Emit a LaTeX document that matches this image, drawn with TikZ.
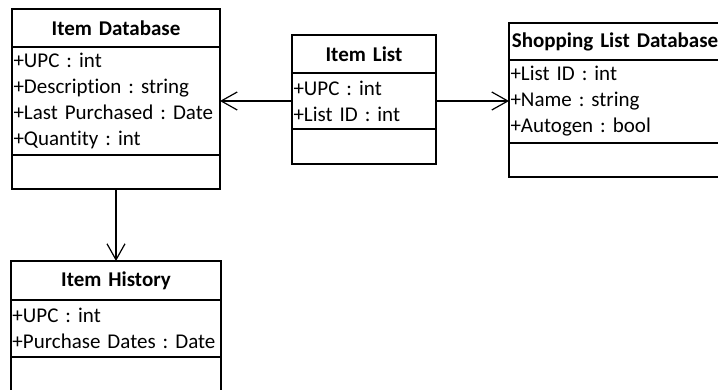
\documentclass[tikz,border=0pt]{standalone}
\usepackage{fontspec}
\setmainfont{Carlito}[Ligatures=NoCommon]
\usetikzlibrary{positioning, arrows.meta}
\frenchspacing

\newcommand{\umlfont}{\fontsize{21}{26}\selectfont}

\tikzset{
  classbox/.style={draw, line width=2pt, outer sep=0pt, inner xsep=1.5pt, inner ysep=0pt, font=\umlfont},
  titlebox/.style={classbox, font=\umlfont\bfseries, align=center},
  attrbox/.style={classbox, align=left},
  assoc/.style={line width=1.2pt, -{Straight Barb[length=16pt, width=18pt]}}
}

\begin{document}
\begin{tikzpicture}[x=1pt, y=-1pt]
\clip (0,0) rectangle (718,390);

% Item Database
\node[titlebox, anchor=north west, text width=205pt, minimum height=38pt] (itemdb) at (12,9) {Item Database};
\node[attrbox, below=0pt of itemdb, text width=205pt, minimum height=108pt] (itemdbattr) {+UPC : int\\+Description : string\\+Last Purchased : Date\\+Quantity : int};
\node[attrbox, below=0pt of itemdbattr, text width=205pt, minimum height=34pt] (itemdbops) {};

% Item List
\node[titlebox, anchor=north west, text width=141pt, minimum height=38pt] (itemlist) at (292,35) {Item List};
\node[attrbox, below=0pt of itemlist, text width=141pt, minimum height=56pt] (itemlistattr) {+UPC : int\\+List ID : int};
\node[attrbox, below=0pt of itemlistattr, text width=141pt, minimum height=35pt] (itemlistops) {};

% Shopping List Database
\node[titlebox, anchor=north west, text width=209pt, minimum height=37pt] (shopdb) at (509,23) {Shopping List Database};
\node[attrbox, below=0pt of shopdb, text width=209pt, minimum height=83pt] (shopdbattr) {+List ID : int\\+Name : string\\+Autogen : bool};
\node[attrbox, below=0pt of shopdbattr, text width=209pt, minimum height=34pt] (shopdbops) {};

% Item History
\node[titlebox, anchor=north west, text width=207pt, minimum height=39pt] (itemhist) at (11,261) {Item History};
\node[attrbox, below=0pt of itemhist, text width=207pt, minimum height=57pt] (itemhistattr) {+UPC : int\\+Purchase Dates : Date};
\node[attrbox, below=0pt of itemhistattr, text width=207pt, minimum height=36pt] (itemhistops) {};

\draw[assoc] (itemlistattr.west) -- (itemlistattr.west -| itemdbattr.east);
\draw[assoc] (itemlistattr.east) -- (itemlistattr.east -| shopdbattr.west);
\draw[assoc] (itemdbops.south) -- (itemhist.north);
\end{tikzpicture}
\end{document}
